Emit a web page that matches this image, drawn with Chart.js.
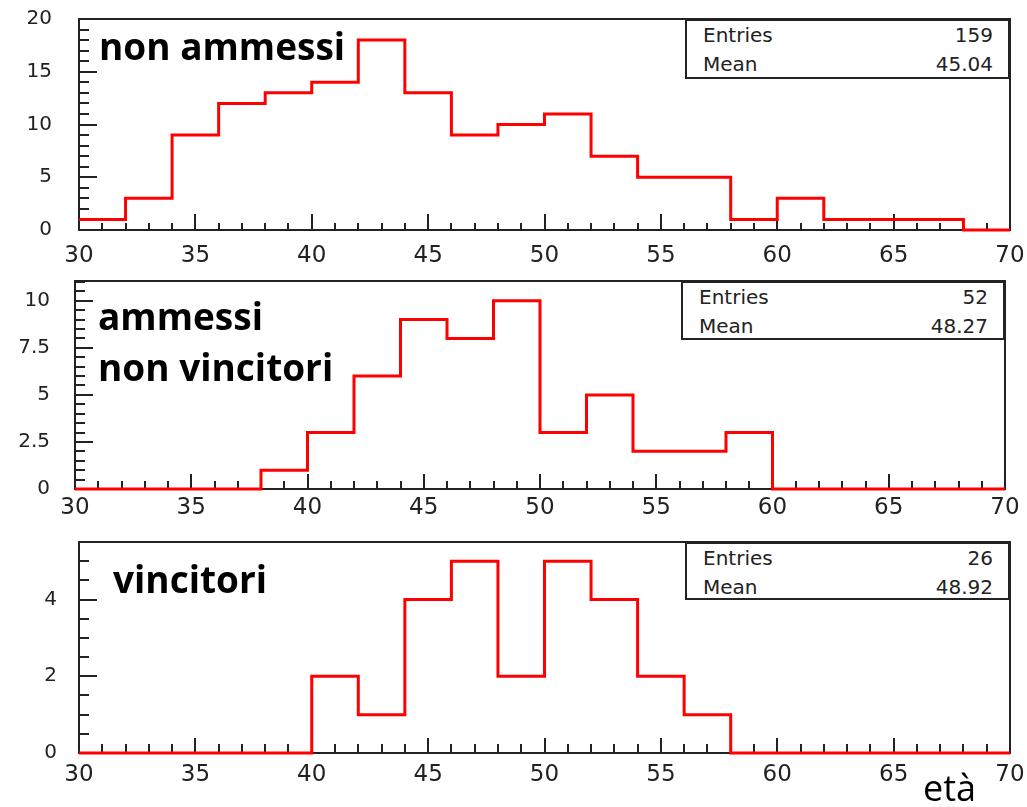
<!DOCTYPE html>
<html lang="it">
<head>
<meta charset="UTF-8">
<title>Distribuzione per età</title>
<script src="https://cdn.jsdelivr.net/npm/chart.js"></script>
<style>
  html, body { margin: 0; padding: 0; background: #fff; }
  body { position: relative; width: 1027px; height: 807px; overflow: hidden; }
  canvas { position: absolute; left: 0; }
  .tag { position: absolute; font-family: 'Open Sans', sans-serif; font-weight: 700; font-size: 37px; line-height: 1; color: #000; white-space: nowrap; }
  .eta { position: absolute; font-family: 'Open Sans', sans-serif; font-size: 36px; line-height: 1; color: #000; }
  .stats { position: absolute; border: 2px solid #222; box-sizing: border-box; background: #fff;
           font-family: 'DejaVu Sans', sans-serif; font-size: 20px; line-height: 1; color: #222; }
  .stats div { position: absolute; left: 16px; right: 15px; display: flex; justify-content: space-between; }
</style>
</head>
<body>
<canvas id="c1" width="1027" height="265" style="top:0px"></canvas>
<canvas id="c2" width="1027" height="265" style="top:265px"></canvas>
<canvas id="c3" width="1027" height="277" style="top:530px"></canvas>

<div class="tag" style="left:99px; top:27px">non ammessi</div>
<div class="tag" style="left:98px; top:297px">ammessi</div>
<div class="tag" style="left:98px; top:348px">non vincitori</div>
<div class="tag" style="left:113px; top:560px">vincitori</div>
<div class="eta" style="left:923px; top:770px">età</div>

<script>
// limite inferiore dei bin (2 anni ciascuno), ultimo bordo a 70
const eta = [30, 32, 34, 36, 38, 40, 42, 44, 46, 48, 50, 52, 54, 56, 58, 60, 62, 64, 66, 68];
const etaFine = 70;

const nonAmmessi          = [1, 3, 9, 12, 13, 14, 18, 13, 9, 10, 11, 7, 5, 5, 1, 3, 1, 1, 1, 0];
const ammessiNonVincitori = [0, 0, 0, 0, 1, 3, 6, 9, 8, 10, 3, 5, 2, 2, 3, 0, 0, 0, 0, 0];
const vincitori           = [0, 0, 0, 0, 0, 2, 1, 4, 5, 2, 5, 4, 2, 1, 0, 0, 0, 0, 0, 0];

// statistiche dei box
const entries = [159, 52, 26];
const means = ['45.04', '48.27', '48.92'];

// etichette degli assi
const xTicks = [30, 35, 40, 45, 50, 55, 60, 65, 70];
const yTicks1 = [0, 5, 10, 15, 20];
const yTicks2 = [0, 2.5, 5, 7.5, 10];
const yTicks3 = [0, 2, 4];

Chart.defaults.font.family = "'DejaVu Sans', sans-serif";
Chart.defaults.color = '#222';

// cornice e tacche stile ROOT (tacche verso l'interno)
const rootFrame = {
  id: 'rootFrame',
  beforeDatasetsDraw(chart, args, o) {
    const { ctx, chartArea: a, scales: { x, y } } = chart;
    ctx.save();
    ctx.strokeStyle = '#222';
    ctx.lineWidth = 2;
    ctx.strokeRect(a.left, a.top, a.right - a.left, a.bottom - a.top);
    ctx.beginPath();
    for (let i = 0; ; i++) {
      const v = x.min + i * o.xStep;
      if (v > x.max + 1e-6) break;
      const px = Math.round(x.getPixelForValue(v));
      const len = xTicks.includes(v) ? o.xMajor : o.xMinor;
      ctx.moveTo(px, a.bottom);
      ctx.lineTo(px, a.bottom - len);
    }
    for (let i = 0; ; i++) {
      const v = y.min + i * o.yStep;
      if (v > y.max + 1e-6) break;
      const py = Math.round(y.getPixelForValue(v));
      const len = o.yMajorList.includes(v) ? o.yMajor : o.yMinor;
      ctx.moveTo(a.left, py);
      ctx.lineTo(a.left + len, py);
    }
    ctx.stroke();
    ctx.restore();
  }
};

function istogramma(id, valori, p) {
  const punti = eta.map((e, i) => ({ x: e, y: valori[i] }));
  punti.push({ x: etaFine, y: valori[valori.length - 1] });

  return new Chart(document.getElementById(id), {
    type: 'line',
    data: {
      datasets: [{
        data: punti,
        stepped: 'before',
        borderColor: '#ff0000',
        borderWidth: 3,
        pointRadius: 0,
        fill: false,
        clip: false
      }]
    },
    options: {
      responsive: false,
      animation: false,
      layout: { padding: { left: 0, right: p.padRight, top: p.padTop, bottom: 0 } },
      plugins: {
        legend: { display: false },
        tooltip: { enabled: false },
        rootFrame: {
          xStep: 1, xMajor: p.xMajor, xMinor: p.xMinor,
          yStep: p.yStep, yMajor: 18, yMinor: 10, yMajorList: p.yTicks
        }
      },
      scales: {
        x: {
          type: 'linear',
          min: 30,
          max: 70,
          grid: { display: false, drawTicks: false },
          border: { display: false },
          afterBuildTicks: s => { s.ticks = xTicks.map(v => ({ value: v })); },
          afterFit: s => { s.height = p.xHeight; s.paddingLeft = 0; s.paddingRight = 0; },
          ticks: { font: { size: 23 }, padding: p.xPad, maxRotation: 0, autoSkip: false, callback: v => String(v) }
        },
        y: {
          min: 0,
          max: p.yMax,
          grid: { display: false, drawTicks: false },
          border: { display: false },
          afterBuildTicks: s => { s.ticks = p.yTicks.map(v => ({ value: v })); },
          afterFit: s => { s.width = p.yWidth; s.paddingTop = 0; s.paddingBottom = 0; },
          ticks: { font: { size: 20 }, padding: p.yPad, callback: v => String(v) }
        }
      }
    },
    plugins: [rootFrame]
  });
}

istogramma('c1', nonAmmessi, {
  padTop: 19, padRight: 17, xHeight: 35, yWidth: 79, xPad: 12, yPad: 27,
  yMax: 20, yTicks: yTicks1, yStep: 1, xMajor: 16, xMinor: 7
});
istogramma('c2', ammessiNonVincitori, {
  padTop: 16, padRight: 22, xHeight: 41, yWidth: 75, xPad: 5, yPad: 25,
  yMax: 11.05, yTicks: yTicks2, yStep: 0.5, xMajor: 15, xMinor: 8
});
istogramma('c3', vincitori, {
  padTop: 12, padRight: 17, xHeight: 54, yWidth: 79, xPad: 8, yPad: 22,
  yMax: 5.5, yTicks: yTicks3, yStep: 0.5, xMajor: 15, xMinor: 9
});

// box statistiche, agganciati all'angolo in alto a destra di ogni riquadro
const boxes = [
  { left: 685, top: 19, width: 325, height: 60 },
  { left: 681, top: 281, width: 324, height: 59 },
  { left: 685, top: 542, width: 325, height: 58 }
];
boxes.forEach((b, i) => {
  const d = document.createElement('div');
  d.className = 'stats';
  d.style.left = b.left + 'px';
  d.style.top = b.top + 'px';
  d.style.width = b.width + 'px';
  d.style.height = b.height + 'px';
  d.innerHTML =
    '<div style="top:4px"><span>Entries</span><span>' + entries[i] + '</span></div>' +
    '<div style="top:33px"><span>Mean</span><span>' + means[i] + '</span></div>';
  document.body.appendChild(d);
});
</script>
</body>
</html>
